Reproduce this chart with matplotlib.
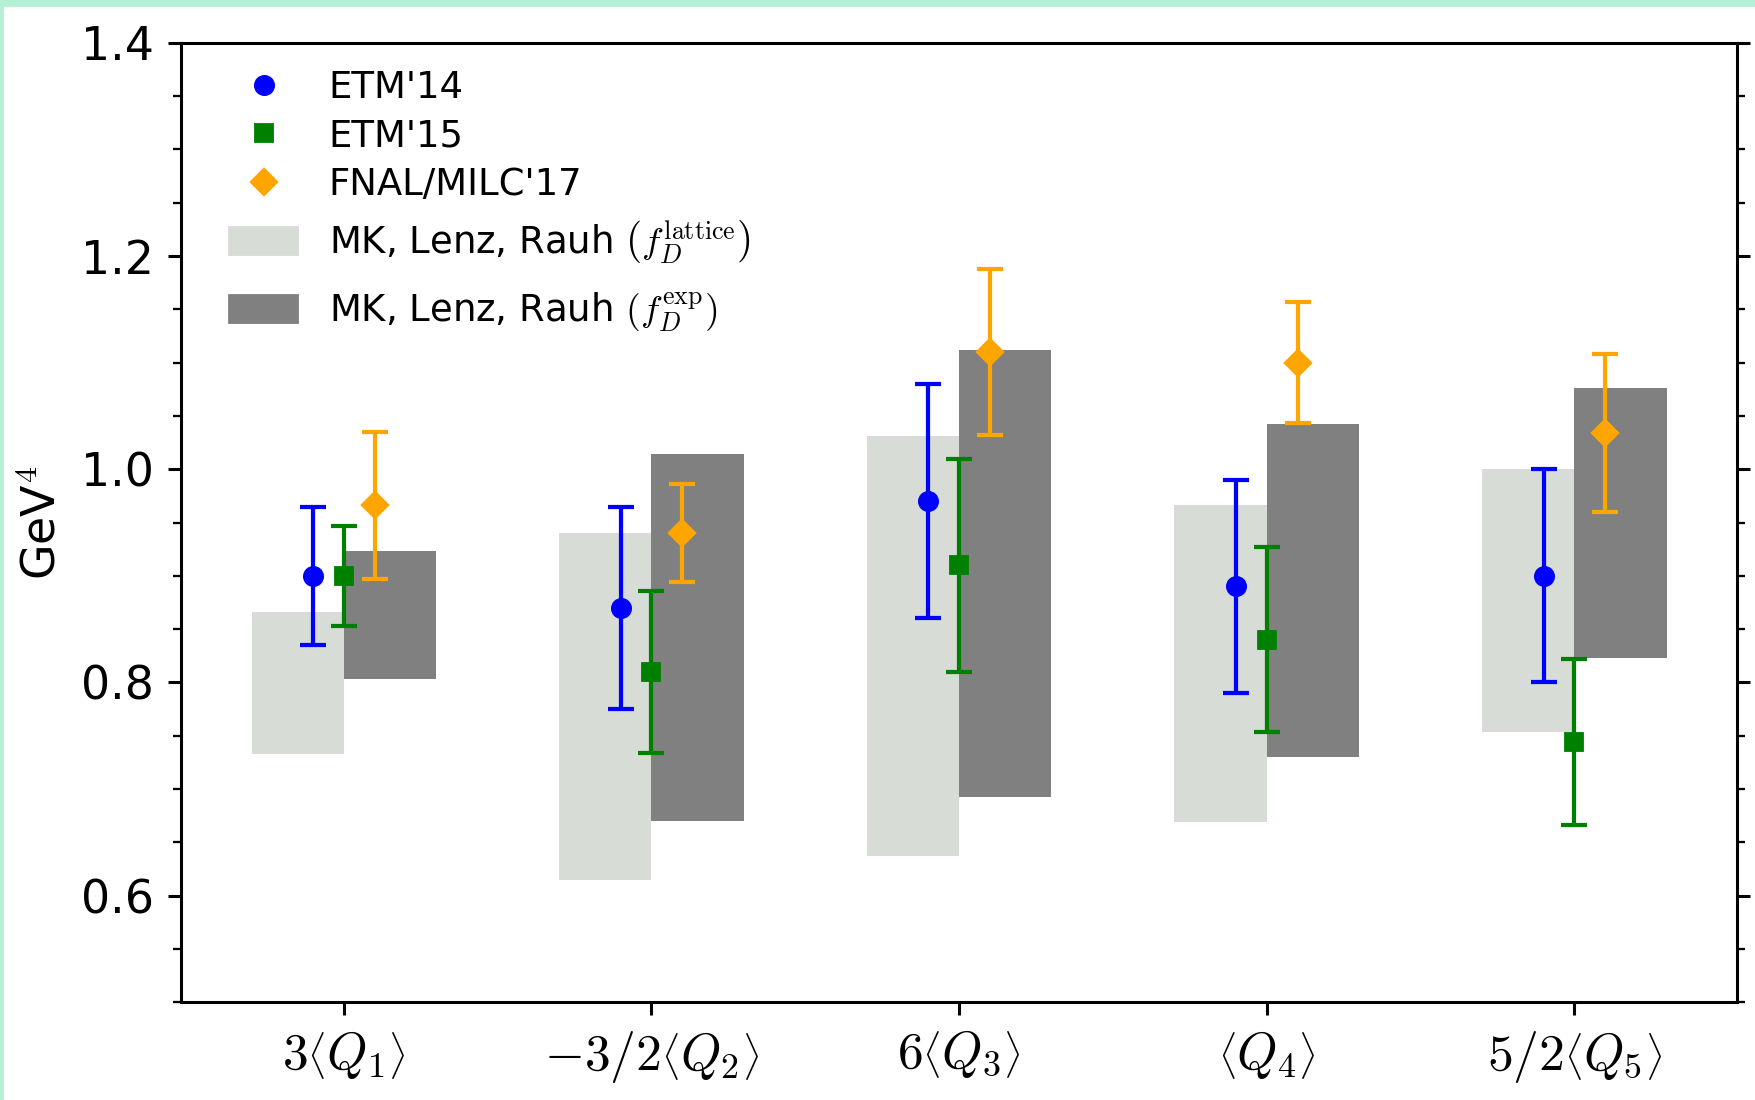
import numpy as np
import matplotlib
matplotlib.use("Agg")
import matplotlib.pyplot as plt
from matplotlib.lines import Line2D
from matplotlib.patches import Patch, Rectangle
from matplotlib.ticker import MultipleLocator

plt.rcParams['mathtext.fontset'] = 'cm'

# === DADOS ===
labels = [r'$3\left\langle Q_1\right\rangle$', r'$-3/2\left\langle Q_2\right\rangle$',
          r'$6\left\langle Q_3\right\rangle$', r'$\left\langle Q_4\right\rangle$',
          r'$5/2\left\langle Q_5\right\rangle$']

etm14 = [0.900, 0.870, 0.970, 0.890, 0.900]
etm14_err = [0.065, 0.095, 0.110, 0.100, 0.100]
etm15 = [0.900, 0.810, 0.910, 0.840, 0.744]
etm15_err = [0.047, 0.076, 0.100, 0.087, 0.078]
fnal17 = [0.966, 0.940, 1.110, 1.100, 1.034]
fnal17_err = [0.069, 0.046, 0.078, 0.057, 0.074]

# MK, Lenz, Rauh: faixas (min, max)
lat_lo = [0.733, 0.615, 0.637, 0.669, 0.753]
lat_hi = [0.866, 0.940, 1.031, 0.966, 1.000]
exp_lo = [0.803, 0.670, 0.692, 0.730, 0.823]
exp_hi = [0.923, 1.014, 1.112, 1.042, 1.076]

x = np.arange(len(labels))
bw = 0.3

fig = plt.figure(figsize=(1755 / 275, 1100 / 275), dpi=275)
ax = fig.add_axes([0.103, 0.089, 0.887, 0.872])

c_light = '#d8dcd6'
c_dark = 'gray'

ax.bar(x, np.array(lat_hi) - np.array(lat_lo), bottom=lat_lo, width=-bw, align='edge', color=c_light)
ax.bar(x, np.array(exp_hi) - np.array(exp_lo), bottom=exp_lo, width=bw, align='edge', color=c_dark)

ekw = dict(linestyle='none', capsize=3.5, elinewidth=1.1, capthick=1.1)
ax.errorbar(x - 0.1, etm14, yerr=etm14_err, fmt='o', color='blue', ms=4.5, **ekw)
ax.errorbar(x, etm15, yerr=etm15_err, fmt='s', color='green', ms=4.0, **ekw)
ax.errorbar(x + 0.1, fnal17, yerr=fnal17_err, fmt='D', color='orange', ms=4.5, **ekw)

ax.set_xlim(-0.53, 4.53)
ax.set_ylim(0.5, 1.4)
ax.set_xticks(x)
ax.set_xticklabels(labels, fontsize=13.5)
ax.yaxis.set_major_locator(MultipleLocator(0.2))
ax.yaxis.set_minor_locator(MultipleLocator(0.05))
ax.tick_params(axis='y', which='both', left=True, right=True, direction='out', labelsize=12)
ax.set_ylabel(r'GeV$^4$', fontsize=12)

# legenda em duas partes (linhas do MK mais espaçadas)
h_pts = [
    Line2D([], [], marker='o', color='blue', linestyle='none', ms=4.5),
    Line2D([], [], marker='s', color='green', linestyle='none', ms=4.0),
    Line2D([], [], marker='D', color='orange', linestyle='none', ms=4.5),
]
n_pts = ["ETM'14", "ETM'15", "FNAL/MILC'17"]
h_mk = [Patch(color=c_light), Patch(color=c_dark)]
n_mk = [r'MK, Lenz, Rauh $\left(f_D^{\mathrm{lattice}}\right)$',
        r'MK, Lenz, Rauh $\left(f_D^{\mathrm{exp}}\right)$']

leg_kw = dict(loc='upper left', frameon=False, fontsize=9.7,
              handlelength=1.8, handletextpad=0.85)
leg1 = ax.legend(h_pts, n_pts, bbox_to_anchor=(0.0105, 1.008), labelspacing=0.32, **leg_kw)
ax.add_artist(leg1)
ax.legend(h_mk, n_mk, bbox_to_anchor=(0.0105, 0.852), labelspacing=0.68, **leg_kw)

# borda da captura de tela
fig.patches.append(Rectangle((0, 1 - 5 / 1100), 1, 5 / 1100, transform=fig.transFigure,
                             color='#b3f0d6', zorder=10))
fig.patches.append(Rectangle((0, 0), 2 / 1755, 1, transform=fig.transFigure,
                             color='#b3f0d6', zorder=10))

fig.savefig('out.png', dpi=275)
